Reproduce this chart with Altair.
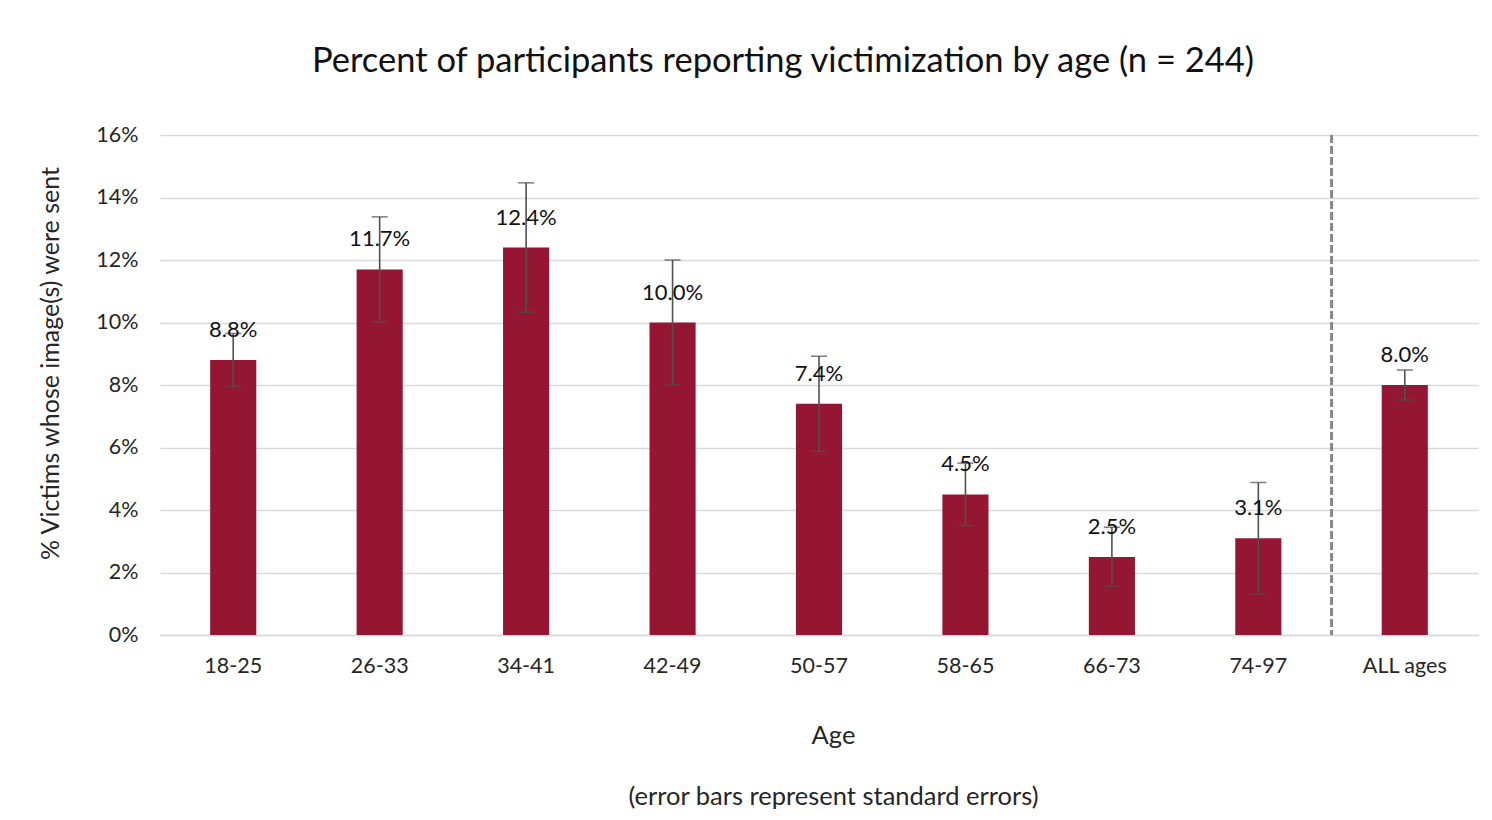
import altair as alt
import pandas as pd

ages = ["18-25", "26-33", "34-41", "42-49", "50-57", "58-65", "66-73", "74-97", "ALL ages"]
pct = [8.8, 11.7, 12.4, 10.0, 7.4, 4.5, 2.5, 3.1, 8.0]
se = [0.85, 1.68, 2.07, 2.0, 1.52, 1.0, 0.95, 1.78, 0.48]
y_ticks = [0, 2, 4, 6, 8, 10, 12, 14, 16]

df = pd.DataFrame({"age": ages, "pct": pct, "se": se})
df["lo"] = df["pct"] - df["se"]
df["hi"] = df["pct"] + df["se"]
df["label"] = [f"{v:.1f}%" for v in pct]
sep = pd.DataFrame({"age": ["ALL ages"]})

FONT = "Lato"
xscale = alt.Scale(paddingInner=0, paddingOuter=0)
yscale = alt.Scale(domain=[0, 16])

xenc = alt.X(
    "age:N", sort=ages, scale=xscale,
    axis=alt.Axis(
        title=["Age", "(error bars represent standard errors)"],
        labelAngle=0, ticks=False, labelPadding=20, labelFontSize=21.5,
        titleFontSize=25.5, titleFontWeight="normal", titleLineHeight=61,
        titleX=673, titleY=88, titleBaseline="top",
        domainColor="#d9d9d9", domainWidth=1.3, grid=False,
        labelColor="#262626", titleColor="#262626",
    ),
)
yenc = alt.Y(
    "pct:Q", scale=yscale,
    axis=alt.Axis(
        title="% Victims whose image(s) were sent", values=y_ticks,
        labelExpr="datum.value + '%'", ticks=False, domain=False,
        labelPadding=22, labelFontSize=21.5, titleFontSize=25,
        titleFontWeight="normal", gridColor="#d9d9d9", gridWidth=1.3,
        titleX=-110, titleY=228, titleBaseline="middle", titleAngle=-90,
        labelColor="#262626", titleColor="#262626",
    ),
)

bars = alt.Chart(df).mark_bar(
    color="#941632", width=alt.RelativeBandSize(0.315)
).encode(x=xenc, y=yenc)

err = alt.Chart(df).mark_rule(color="#505050", strokeWidth=1.6).encode(
    x=alt.X("age:N", sort=ages), y=alt.Y("lo:Q"), y2="hi:Q"
)
cap_hi = alt.Chart(df).mark_tick(color="#505050", size=16, thickness=1.6).encode(
    x=alt.X("age:N", sort=ages), y=alt.Y("hi:Q")
)
cap_lo = alt.Chart(df).mark_tick(color="#505050", size=16, thickness=1.6).encode(
    x=alt.X("age:N", sort=ages), y=alt.Y("lo:Q")
)
labels = alt.Chart(df).mark_text(
    font=FONT, fontSize=22, baseline="alphabetic", dy=-23, color="#111111"
).encode(x=alt.X("age:N", sort=ages), y=alt.Y("pct:Q"), text="label:N")

divider = alt.Chart(sep).mark_rule(
    color="#888888", strokeWidth=3, strokeDash=[8, 3]
).encode(x=alt.X("age:N", sort=ages, bandPosition=0))

chart = alt.layer(bars, divider, err, cap_hi, cap_lo, labels).properties(
    width=1318, height=500,
    title=alt.TitleParams(
        "Percent of participants reporting victimization by age (n = 244)",
        font=FONT, fontSize=34.5, fontWeight="normal", color="#111111",
        anchor="middle", dx=-36, offset=45,
    ),
    autosize=alt.AutoSizeParams(type="none"),
    padding={"left": 152, "top": 127, "right": 4, "bottom": 177},
).configure(
    font=FONT
).configure_axis(
    labelFont=FONT, titleFont=FONT
).configure_view(stroke=None)

chart.save("out.html", embed_options={"renderer": "svg", "actions": False})
